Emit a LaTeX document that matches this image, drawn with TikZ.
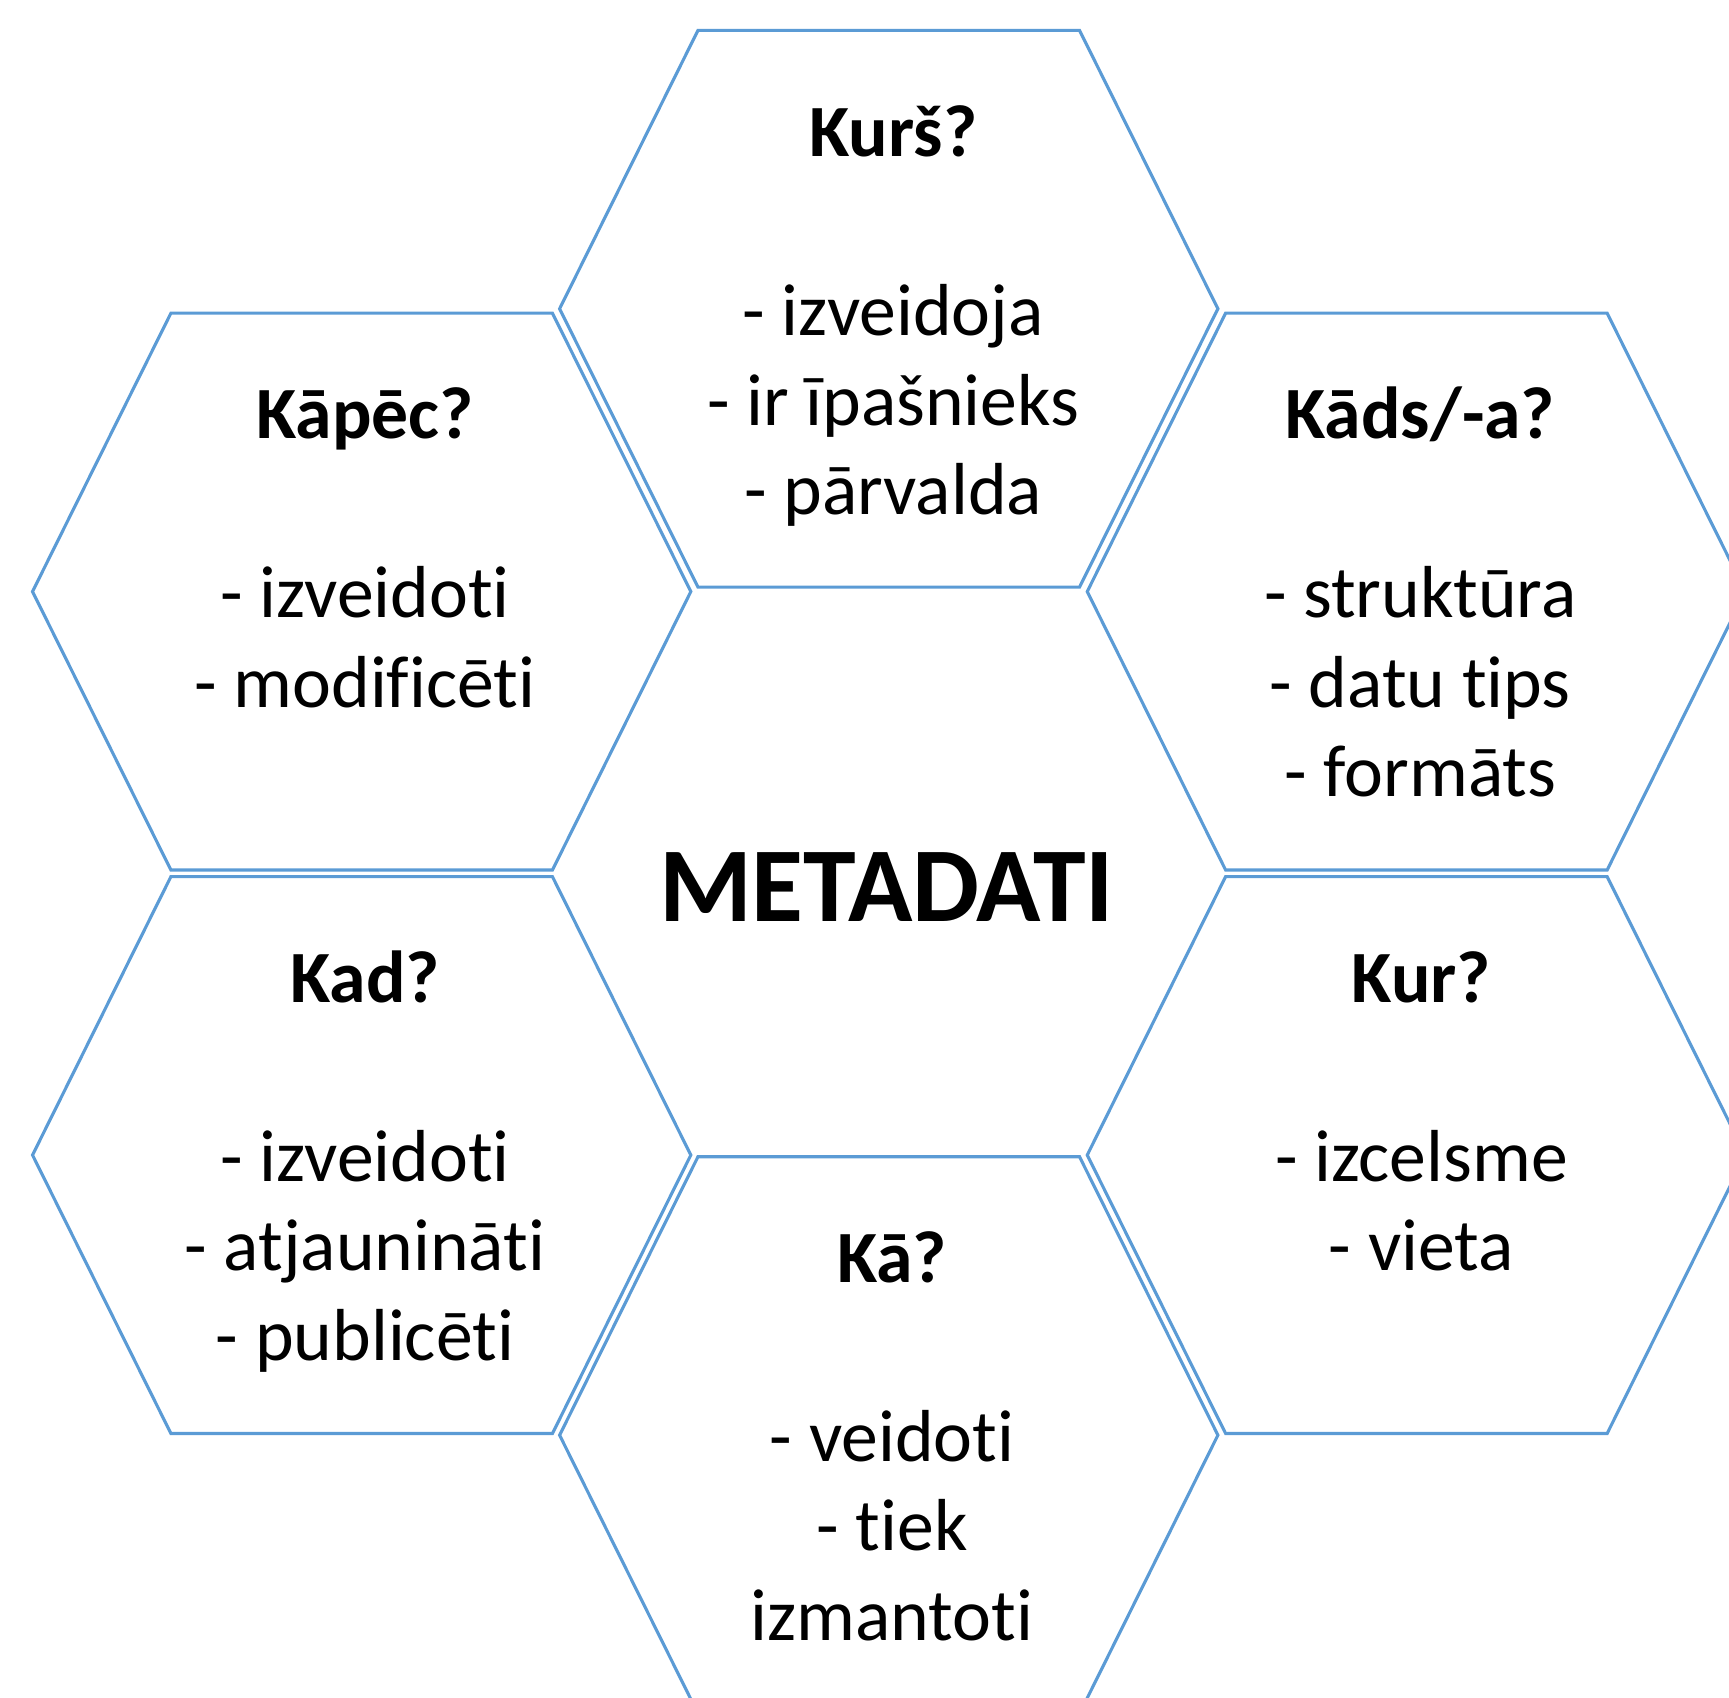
\documentclass[tikz,border=0pt]{standalone}
\usepackage{fontspec}
\setmainfont{Carlito}[Ligatures=NoCommon]
\definecolor{hexblue}{RGB}{91,155,213}

\begin{document}
\begin{tikzpicture} [
        x=0.01cm, y=-0.01cm,
        hex/.style={draw=hexblue, line width=0.8pt},
        hextext/.style={align=center, anchor=base, inner sep=0pt, font=\fontsize{19}{23.1}\selectfont},
        maintext/.style={inner sep=0pt, font=\fontsize{27.4}{33}\selectfont\bfseries} ]
    \useasboundingbox (0,0) rectangle (1568,1539);
    \clip (0,0) rectangle (1568,1539);
    % hexagons
    \draw[hex] (507.5,280) -- ++(125.5,-252.5) -- ++(346,0) -- ++(125.5,252.5) -- ++(-125.5,252.5) -- ++(-346,0) -- cycle;
    \draw[hex] (29.5,536.5) -- ++(125.5,-252.5) -- ++(346,0) -- ++(125.5,252.5) -- ++(-125.5,252.5) -- ++(-346,0) -- cycle;
    \draw[hex] (986,536.5) -- ++(125.5,-252.5) -- ++(346,0) -- ++(125.5,252.5) -- ++(-125.5,252.5) -- ++(-346,0) -- cycle;
    \draw[hex] (29.5,1047.5) -- ++(125.5,-252.5) -- ++(346,0) -- ++(125.5,252.5) -- ++(-125.5,252.5) -- ++(-346,0) -- cycle;
    \draw[hex] (986,1047.5) -- ++(125.5,-252.5) -- ++(346,0) -- ++(125.5,252.5) -- ++(-125.5,252.5) -- ++(-346,0) -- cycle;
    \draw[hex] (507.5,1301.5) -- ++(125.5,-252.5) -- ++(346,0) -- ++(125.5,252.5) -- ++(-125.5,252.5) -- ++(-346,0) -- cycle;
    % texts (placed at the baseline of their last line)
    \node[maintext] (c) at (804,804) {METADATI};
    \node[hextext] (h1) at (810,466.7) {\textbf{Kurš?}\\[23.1pt] - izveidoja\\ - ir īpašnieks\\ - pārvalda};
    \node[hextext] (h2) at (331,641.4) {\textbf{Kāpēc?}\\[23.1pt] - izveidoti\\ - modificēti};
    \node[hextext] (h3) at (1288,722.7) {\textbf{Kāds/-a?}\\[23.1pt] - struktūra\\ - datu tips\\ - formāts};
    \node[hextext] (h4) at (331,1233.7) {\textbf{Kad?}\\[23.1pt] - izveidoti\\ - atjaunināti\\ - publicēti};
    \node[hextext] (h5) at (1289,1152.4) {\textbf{Kur?}\\[23.1pt] - izcelsme\\ - vieta};
    \node[hextext] (h6) at (809,1487.7) {\textbf{Kā?}\\[23.1pt] - veidoti\\ - tiek\\ izmantoti};
\end{tikzpicture}
\end{document}
